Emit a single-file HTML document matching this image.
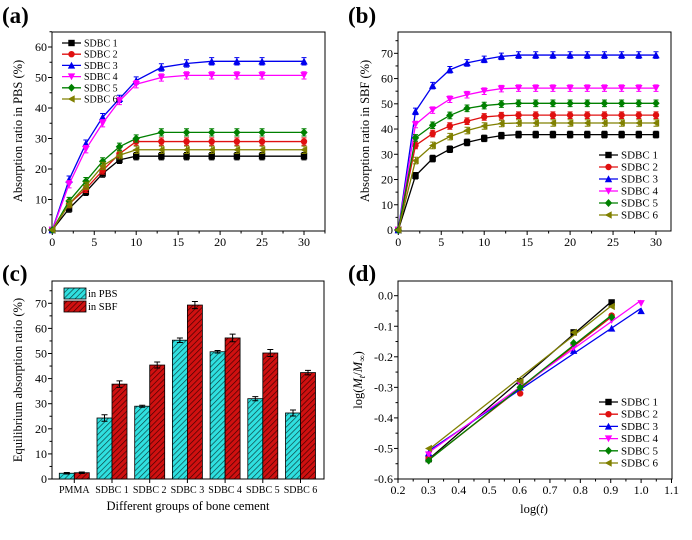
<!DOCTYPE html>
<html><head><meta charset="utf-8"><style>
body{margin:0;background:#fff;width:692px;height:535px;overflow:hidden}
svg text{font-family:"Liberation Serif",serif}
</style></head><body>
<svg id="fig" width="692" height="535" xmlns="http://www.w3.org/2000/svg">
<defs>
<pattern id="hc" patternUnits="userSpaceOnUse" width="4" height="4" patternTransform="rotate(45)"><rect width="4" height="4" fill="#2fe0e0"/><line x1="0" y1="0" x2="0" y2="4" stroke="#0a3a3a" stroke-width="1.3"/></pattern>
<pattern id="hr" patternUnits="userSpaceOnUse" width="4" height="4" patternTransform="rotate(45)"><rect width="4" height="4" fill="#d01010"/><line x1="0" y1="0" x2="0" y2="4" stroke="#3a0000" stroke-width="1.3"/></pattern>
</defs>
</svg>
<script>
// ---- data ----
const seriesNames=["SDBC 1","SDBC 2","SDBC 3","SDBC 4","SDBC 5","SDBC 6"];
const timesA=[0,2,4,6,8,10,13,16,19,22,25,30];
const pbs1=[0,7,12.5,18.5,23,24.2,24.2,24.2,24.2,24.2,24.2,24.2];
const pbs2=[0,8.5,13.5,19.5,25,29,29,29,29,29,29,29];
const pbs3=[0,16.5,28.3,37,43,49,53.3,54.6,55.3,55.3,55.3,55.3];
const pbs4=[0,15,26.5,35,42.3,47.8,50,50.7,50.7,50.7,50.7,50.7];
const pbs5=[0,9.5,16,22.5,27.3,30,32,32,32,32,32,32];
const pbs6=[0,8.5,14.5,21,24.5,26.3,26.3,26.3,26.3,26.3,26.3,26.3];
const timesB=[0,2,4,6,8,10,12,14,16,18,20,22,24,26,28,30];
const sbf1=[0,21.5,28.3,32,34.7,36.3,37.4,37.8,37.8,37.8,37.8,37.8,37.8,37.8,37.8,37.8];
const sbf2=[0,33.5,38.2,41.2,43.1,44.8,45.3,45.5,45.5,45.5,45.5,45.5,45.5,45.5,45.5,45.5];
const sbf3=[0,47,57.2,63.5,66.2,67.6,68.8,69.3,69.3,69.3,69.3,69.3,69.3,69.3,69.3,69.3];
const sbf4=[0,41.8,47.5,51.8,53.6,55,56,56.2,56.2,56.2,56.2,56.2,56.2,56.2,56.2,56.2];
const sbf5=[0,36.5,41.5,45.4,48.2,49.3,49.9,50.2,50.2,50.2,50.2,50.2,50.2,50.2,50.2,50.2];
const sbf6=[0,27.5,33.5,37,39.4,41.2,42.2,42.4,42.4,42.4,42.4,42.4,42.4,42.4,42.4,42.4];
const groups=["PMMA","SDBC 1","SDBC 2","SDBC 3","SDBC 4","SDBC 5","SDBC 6"];
const eqPBS=[2.3,24.3,29,55.3,50.7,32,26.3];
const eqSBF=[2.5,37.8,45.4,69.3,56.2,50.2,42.4];
const errPBS=[0.3,1.3,0.4,0.9,0.5,0.8,1.2];
const errSBF=[0.3,1.3,1.2,1.4,1.5,1.4,0.9];
const logT1=[0.301,0.602,0.778,0.903];
const logT2=[0.301,0.602,0.778,0.903,1.0];
const d1=[-0.535,-0.28,-0.12,-0.022];
const d2=[-0.53,-0.32,-0.16,-0.065];
const d3=[-0.515,-0.30,-0.18,-0.107,-0.05];
const d4=[-0.52,-0.29,-0.17,-0.08,-0.025];
const d5=[-0.54,-0.30,-0.155,-0.07];
const d6=[-0.50,-0.28,-0.12,-0.035];
const ticksA=[0,10,20,30,40,50,60], ticksB=[0,10,20,30,40,50,60,70];
const ticksX=[0,5,10,15,20,25,30];
const ticksD=[0,-0.1,-0.2,-0.3,-0.4,-0.5,-0.6], ticksDX=[0.2,0.3,0.4,0.5,0.6,0.7,0.8,0.9,1.0,1.1];
const colors=["#000","#e01010","#0000ee","#ff00ff","#008000","#808000"];
const markers=["sq","ci","tu","td","di","tl"];

const NS="http://www.w3.org/2000/svg", svg=document.getElementById('fig');
function el(tag,at,parent){const e=document.createElementNS(NS,tag);for(const k in at)e.setAttribute(k,at[k]);(parent||svg).appendChild(e);return e;}
function txt(s,x,y,sz,anchor,parent,extra){const t=el('text',Object.assign({x:x,y:y,'font-size':sz,'text-anchor':anchor||'middle'},extra||{}),parent);t.textContent=s;return t;}
function marker(kind,x,y,c,g){const r=3.2;let m;
 if(kind=="sq")m=el('rect',{x:x-r,y:y-r,width:2*r,height:2*r,fill:c},g);
 else if(kind=="ci")m=el('circle',{cx:x,cy:y,r:r,fill:c},g);
 else if(kind=="tu")m=el('polygon',{points:`${x},${y-r-0.5} ${x-r-0.5},${y+r} ${x+r+0.5},${y+r}`,fill:c},g);
 else if(kind=="td")m=el('polygon',{points:`${x},${y+r+0.5} ${x-r-0.5},${y-r} ${x+r+0.5},${y-r}`,fill:c},g);
 else if(kind=="di")m=el('polygon',{points:`${x},${y-r-0.8} ${x+r+0.5},${y} ${x},${y+r+0.8} ${x-r-0.5},${y}`,fill:c},g);
 else m=el('polygon',{points:`${x-r-0.5},${y} ${x+r},${y-r-0.5} ${x+r},${y+r+0.5}`,fill:c},g);
 
 
}
function axes(g,L,R,T,B,xs,ys,xt,yt,fmtX,fmtY,minorX,minorY){
 const f=el('rect',{x:L,y:T,width:R-L,height:B-T,fill:'none',stroke:'#000','stroke-width':1},g);
 
 xt.forEach(v=>{const x=xs(v);el('line',{x1:x,y1:B,x2:x,y2:B+4,stroke:'#000'},g);txt(fmtX(v),x,B+15,12,'middle',g);});
 yt.forEach(v=>{const y=ys(v);el('line',{x1:L-4,y1:y,x2:L,y2:y,stroke:'#000'},g);txt(fmtY(v),L-5,y+4,12,'end',g);});
 (minorX||[]).forEach(v=>{const x=xs(v);el('line',{x1:x,y1:B,x2:x,y2:B+2.5,stroke:'#000'},g);});
 (minorY||[]).forEach(v=>{const y=ys(v);el('line',{x1:L-2.5,y1:y,x2:L,y2:y,stroke:'#000'},g);});
}
function panelLabel(s,x,y){const t=txt(s,x,y,23,'start',svg,{'font-weight':'bold'});}
function ytitle(s,x,y,g){const t=el('text',{x:0,y:0,'font-size':12.5,'text-anchor':'middle',transform:`translate(${x},${y}) rotate(-90)`},g);t.innerHTML=s;}
function legend(g,x,y,dy,fs){seriesNames.forEach((n,i)=>{const lg=el('g',{},g);
 el('line',{x1:x,y1:y+i*dy,x2:x+19,y2:y+i*dy,stroke:colors[i],'stroke-width':1.3},lg);marker(markers[i],x+9.5,y+i*dy,colors[i],lg);txt(n,x+22,y+i*dy+3.5,fs||11,'start',lg);});}
function range(a,b,s){const r=[];for(let v=a;v<=b+1e-9;v+=s)r.push(+v.toFixed(3));return r;}

// ---- panel a ----
(function(){const g=el('g',{});
 const L=52,R=325,T=32,B=231;const xs=v=>52.3+v*8.39, ys=v=>230-v*3.05;
 axes(g,L,R,T,B,xs,ys,ticksX,ticksA,v=>v,v=>v,range(2.5,32.5,5),range(5,65,10));
 const data=[pbs1,pbs2,pbs3,pbs4,pbs5,pbs6];
 data.forEach((d,i)=>{const sg=el('g',{},g);
  el('polyline',{points:timesA.map((t,j)=>xs(t)+','+ys(d[j])).join(' '),fill:'none',stroke:colors[i],'stroke-width':1.3},sg);
  timesA.forEach((t,j)=>{if(j>0){const x=xs(t),e=1.2*3.05;el('path',{d:`M${x},${ys(d[j])-e}V${ys(d[j])+e}M${x-2.5},${ys(d[j])-e}h5M${x-2.5},${ys(d[j])+e}h5`,stroke:colors[i],fill:'none'},sg);}marker(markers[i],xs(t),ys(d[j]),colors[i],sg);});});
 legend(g,62,43,11.2,10);
 ytitle('Absorption ratio in PBS (%)',22,131,g);
})();
panelLabel('(a)',2,23);

// ---- panel b ----
(function(){const g=el('g',{});
 const L=398,R=671,T=32,B=231;const xs=v=>398.3+v*8.59, ys=v=>230-v*2.524;
 axes(g,L,R,T,B,xs,ys,ticksX,ticksB,v=>v,v=>v,range(2.5,30,5),range(5,75,10));
 const data=[sbf1,sbf2,sbf3,sbf4,sbf5,sbf6];
 data.forEach((d,i)=>{const sg=el('g',{},g);
  el('polyline',{points:timesB.map((t,j)=>xs(t)+','+ys(d[j])).join(' '),fill:'none',stroke:colors[i],'stroke-width':1.3},sg);
  timesB.forEach((t,j)=>{if(j>0){const x=xs(t),e=1.3*2.524;el('path',{d:`M${x},${ys(d[j])-e}V${ys(d[j])+e}M${x-2.5},${ys(d[j])-e}h5M${x-2.5},${ys(d[j])+e}h5`,stroke:colors[i],fill:'none'},sg);}marker(markers[i],xs(t),ys(d[j]),colors[i],sg);});});
 legend(g,599,155,12);
 ytitle('Absorption ratio in SBF (%)',369,131,g);
})();
panelLabel('(b)',348,23);

// ---- panel c ----
(function(){const g=el('g',{});
 const L=52,R=324,T=281,B=479;const ys=v=>479-v*2.51, cx=i=>74.3+i*37.7;
 el('rect',{x:L,y:T,width:R-L,height:B-T,fill:'none',stroke:'#000'},g);
 ticksB.forEach(v=>{const y=ys(v);el('line',{x1:L-4,y1:y,x2:L,y2:y,stroke:'#000'},g);txt(v,L-5,y+4,12,'end',g);});
 range(5,75,10).forEach(v=>{const y=ys(v);el('line',{x1:L-2.5,y1:y,x2:L,y2:y,stroke:'#000'},g);});
 groups.forEach((n,i)=>{const x=cx(i);
  [[eqPBS,errPBS,'url(#hc)',x-15],[eqSBF,errSBF,'url(#hr)',x]].forEach(([d,e,f,bx],k)=>{
   const b=el('rect',{x:bx,y:ys(d[i]),width:15,height:ys(0)-ys(d[i]),fill:f,stroke:'#000','stroke-width':0.8},g);
   
   const mx=bx+7.5,y1=ys(d[i]+e[i]),y2=ys(d[i]-e[i]);el('path',{d:`M${mx},${y1}V${y2}M${mx-3},${y1}h6M${mx-3},${y2}h6`,stroke:'#000',fill:'none'},g);});
  el('line',{x1:x,y1:B,x2:x,y2:B+4,stroke:'#000'},g);txt(n,x,B+14,10,'middle',g);});
 const lg1=el('g',{},g);
 el('rect',{x:64,y:288,width:22,height:11,fill:'url(#hc)',stroke:'#000','stroke-width':0.8},lg1);txt('in PBS',88,297,10.5,'start',lg1);
 const lg2=el('g',{},g);
 el('rect',{x:64,y:301,width:22,height:11,fill:'url(#hr)',stroke:'#000','stroke-width':0.8},lg2);txt('in SBF',88,310,10.5,'start',lg2);
 ytitle('Equilibrium absorption ratio (%)',22,380,g);
 const xt=txt('Different groups of bone cement',188,510,12.5,'middle',g);
})();
panelLabel('(c)',2,281);

// ---- panel d ----
(function(){const g=el('g',{});
 const L=398,R=672,T=281,B=479;const xs=v=>398+(v-0.2)*(273.5/0.9), ys=v=>295.7-v*305.5;
 axes(g,L,R,T,B,xs,ys,ticksDX,ticksD,v=>v.toFixed(1),v=>v.toFixed(1),range(0.25,1.05,0.1),range(-0.55,0.0,0.1));
 const data=[d1,d2,d3,d4,d5,d6], xsets=[logT1,logT1,logT2,logT2,logT1,logT1];
 data.forEach((d,i)=>{const sg=el('g',{},g);
  const X=xsets[i],n=X.length,mx=X.reduce((a,b)=>a+b)/n,my=d.reduce((a,b)=>a+b)/n;
  let sxy=0,sxx=0;X.forEach((x,j)=>{sxy+=(x-mx)*(d[j]-my);sxx+=(x-mx)**2;});const k=sxy/sxx,b0=my-k*mx;
  const x0=X[0],x1=X[n-1];const fl=el('line',{x1:xs(x0),y1:ys(k*x0+b0),x2:xs(x1),y2:ys(k*x1+b0),stroke:colors[i],'stroke-width':1.3},sg);
  
  X.forEach((x,j)=>marker(markers[i],xs(x),ys(d[j]),colors[i],sg));});
 legend(g,599,402,12.2);
 ytitle('log(<tspan font-style="italic">M</tspan><tspan font-style="italic" font-size="9" dy="3">t</tspan><tspan dy="-3">/</tspan><tspan font-style="italic">M</tspan><tspan font-size="9" dy="3">∞</tspan><tspan dy="-3">)</tspan>',362,380,g);
 const xt=el('text',{x:534,y:513,'font-size':12.5,'text-anchor':'middle'},g);xt.innerHTML='log(<tspan font-style="italic">t</tspan>)';
 
})();
panelLabel('(d)',348,281);
</script>
</body></html>
